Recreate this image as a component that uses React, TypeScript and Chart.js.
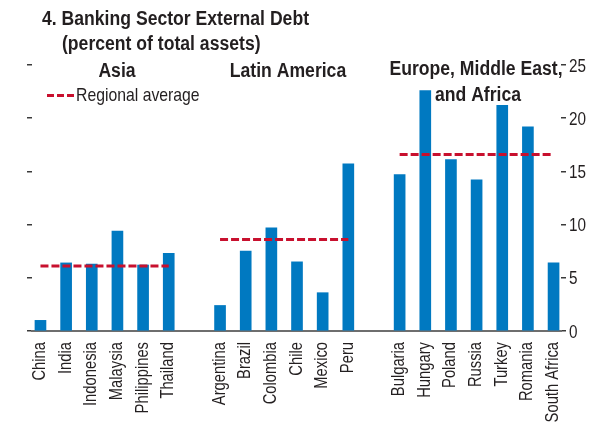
import React, { useEffect, useRef } from "react";
import { Chart, registerables } from "chart.js";

Chart.register(...registerables);

const countries = [
  "China", "India", "Indonesia", "Malaysia", "Philippines", "Thailand", "",
  "Argentina", "Brazil", "Colombia", "Chile", "Mexico", "Peru", "",
  "Bulgaria", "Hungary", "Poland", "Russia", "Turkey", "Romania", "South Africa",
];
const externalDebt = [
  1.0, 6.4, 6.3, 9.4, 6.2, 7.3, null,
  2.4, 7.5, 9.7, 6.5, 3.6, 15.7, null,
  14.7, 22.6, 16.1, 14.2, 21.2, 19.2, 6.4,
];
const yTicks = [0, 5, 10, 15, 20, 25];
const regionNames = ["Asia", "Latin America", "Europe, Middle East,", "and Africa"];
const regionAverages = [6.1, 8.6, 16.6];
const regionFirst = [0, 7, 14];
const regionLast = [5, 12, 20];

const FONT = "'Liberation Sans', Arial, sans-serif";
const TEXT = "#231f20";
const BLUE = "#0079c1";
const RED = "#c8102e";

function drawText(
  ctx: CanvasRenderingContext2D,
  s: string,
  x: number,
  y: number,
  font: string,
  sx: number,
  align: CanvasTextAlign = "left",
  rot = 0
) {
  ctx.save();
  ctx.translate(x, y);
  if (rot) ctx.rotate(rot);
  ctx.scale(sx, 1);
  ctx.font = font;
  ctx.textAlign = align;
  ctx.textBaseline = "alphabetic";
  ctx.fillStyle = TEXT;
  ctx.fillText(s, 0, 0);
  ctx.restore();
}

const textPlugin = {
  id: "texts",
  afterDraw(chart: any) {
    const ctx: CanvasRenderingContext2D = chart.ctx;
    const bold = `bold 20px ${FONT}`;
    const bs = 0.88;
    drawText(ctx, "4. Banking Sector External Debt", 42, 25, bold, bs);
    drawText(ctx, "(percent of total assets)", 62, 50, bold, bs);
    drawText(ctx, regionNames[0], 117, 77, bold, bs, "center");
    drawText(ctx, regionNames[1], 288, 77, bold, bs, "center");
    drawText(ctx, regionNames[2], 476, 75, bold, bs, "center");
    drawText(ctx, regionNames[3], 478, 101, bold, bs, "center");

    // legend
    ctx.save();
    ctx.strokeStyle = RED;
    ctx.lineWidth = 3;
    ctx.setLineDash([7, 3]);
    ctx.beginPath();
    ctx.moveTo(47, 95.5);
    ctx.lineTo(74, 95.5);
    ctx.stroke();
    ctx.restore();
    drawText(ctx, "Regional average", 76, 101, `19px ${FONT}`, 0.83);

    // x tick labels
    const xs = chart.scales.x;
    countries.forEach((c, i) => {
      if (!c) return;
      const px = xs.getPixelForValue(i);
      drawText(ctx, c, px + 4.5, xs.top + 11, `18px ${FONT}`, 0.82, "right", -Math.PI / 2);
    });

    // y tick labels (right)
    const ys = chart.scales.y;
    yTicks.forEach((v) => {
      const py = ys.getPixelForValue(v);
      drawText(ctx, String(v), ys.left + 8, py + 6.5, `18px ${FONT}`, 0.85, "left");
    });
  },
};

export default function App() {
  const ref = useRef<HTMLCanvasElement>(null);
  useEffect(() => {
    document.body.style.margin = "0";
    const barData = externalDebt
      .map((v, i) => ({ x: i, y: v }))
      .filter((d) => d.y !== null);
    const avgSets = regionAverages.map((avg, r) => ({
      type: "line" as const,
      data: [
        { x: regionFirst[r], y: avg },
        { x: regionLast[r], y: avg },
      ],
      borderColor: RED,
      borderWidth: 3,
      borderDash: [8, 3],
      pointRadius: 0,
      fill: false,
      order: 0,
    }));
    const tickGrid = {
      drawOnChartArea: false,
      drawTicks: true,
      tickLength: 5,
      color: "#3a3a3a",
      lineWidth: 1.5,
    };
    const chart = new Chart(ref.current!, {
      type: "bar",
      data: {
        datasets: [
          {
            type: "bar",
            data: barData as any,
            backgroundColor: BLUE,
            barThickness: 11,
            order: 1,
          } as any,
          ...(avgSets as any),
        ],
      },
      options: {
        animation: false,
        responsive: true,
        maintainAspectRatio: false,
        layout: { padding: { top: 65, left: 0, right: 0, bottom: 0 } },
        plugins: { legend: { display: false }, tooltip: { enabled: false }, title: { display: false } },
        scales: {
          x: {
            type: "linear",
            offset: false,
            min: -0.33,
            max: 20.29,
            grid: { display: false, drawTicks: false, offset: false },
            border: { display: true, color: "#6e6e6e", width: 2 },
            afterBuildTicks: (s: any) => {
              s.ticks = countries.map((_, i) => ({ value: i }));
            },
            afterFit: (s: any) => {
              s.height = 96;
              s.paddingLeft = 0;
              s.paddingRight = 0;
            },
            ticks: { display: false },
          },
          y: {
            position: "right",
            min: 0,
            max: 25,
            grid: tickGrid,
            border: { display: false },
            afterBuildTicks: (s: any) => {
              s.ticks = yTicks.map((v) => ({ value: v }));
            },
            afterFit: (s: any) => {
              s.width = 36;
              s.paddingTop = 0;
              s.paddingBottom = 0;
            },
            ticks: { display: false },
          },
          yL: {
            position: "left",
            min: 0,
            max: 25,
            grid: tickGrid,
            border: { display: false },
            afterBuildTicks: (s: any) => {
              s.ticks = yTicks.map((v) => ({ value: v }));
            },
            afterFit: (s: any) => {
              s.width = 32;
              s.paddingTop = 0;
              s.paddingBottom = 0;
            },
            ticks: { display: false },
          },
        },
      } as any,
      plugins: [textPlugin],
    });
    return () => chart.destroy();
  }, []);
  return (
    <div style={{ position: "relative", width: 597, height: 427 }}>
      <canvas ref={ref} />
    </div>
  );
}
